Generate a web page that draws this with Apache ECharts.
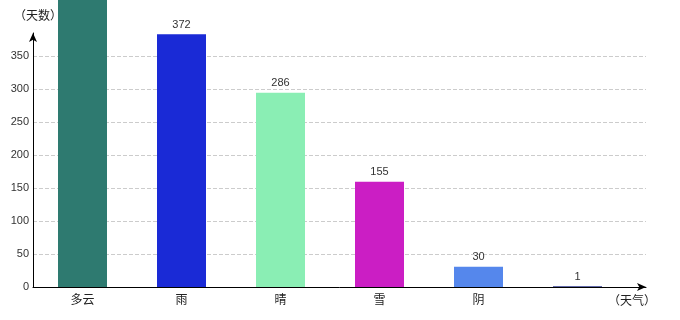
<!DOCTYPE html>
<html>
<head>
<meta charset="utf-8">
<script src="https://cdn.jsdelivr.net/npm/echarts@6/dist/echarts.min.js"></script>
<style>html,body{margin:0;padding:0;background:#fff}#c{width:680px;height:320px}</style>
</head>
<body>
<div id="c"></div>
<script>
var categories = ['多云', '雨', '晴', '雪', '阴', ''];
var values = [480, 372, 286, 155, 30, 1];
var barColors = ['#2E7A70', '#1A2AD6', '#8AEEB4', '#CB1EC4', '#5587EC', '#2F3A8E'];
var yTicks = { min: 0, max: 385, interval: 50 };
var xName = '（天气）';
var yName = '（天数）';

var chart = echarts.init(document.getElementById('c'));
var font = 'Liberation Sans, Arial, Noto Sans CJK SC, sans-serif';
var cjk = 'Noto Sans CJK SC, sans-serif';
chart.setOption({
  animation: false,
  textStyle: { fontFamily: font },
  grid: [
    { left: 33, right: 34, top: 33, bottom: 33 },
    { left: 33, right: 53, top: 33, bottom: 33 }
  ],
  xAxis: [
    {
      gridIndex: 0, type: 'value', min: 0, max: 1,
      name: xName, nameLocation: 'end', nameGap: -14,
      nameTextStyle: { color: '#222', fontSize: 12, align: 'center', verticalAlign: 'top', padding: [7, 0, 0, 0], fontFamily: cjk },
      axisLine: { show: true, lineStyle: { color: '#000', width: 1 }, symbol: ['none', 'arrow'], symbolSize: [6, 9] },
      axisTick: { show: false }, axisLabel: { show: false }, splitLine: { show: false }
    },
    {
      gridIndex: 1, type: 'category', data: categories,
      axisLine: { show: false }, axisTick: { show: false },
      axisLabel: { color: '#222', fontSize: 12, margin: 6, fontFamily: cjk },
      splitLine: { show: false }
    }
  ],
  yAxis: [
    {
      gridIndex: 0, type: 'value', min: yTicks.min, max: yTicks.max, interval: yTicks.interval,
      name: yName, nameLocation: 'end', nameGap: 12,
      nameTextStyle: { color: '#222', fontSize: 12, align: 'center', padding: [0, 0, 0, 10], fontFamily: cjk },
      axisLine: { show: true, lineStyle: { color: '#000', width: 1 }, symbol: ['none', 'arrow'], symbolSize: [6, 9] },
      axisTick: { show: false },
      axisLabel: { color: '#333', fontSize: 11, margin: 4, showMaxLabel: false, fontFamily: font },
      splitLine: { show: true, showMaxLine: false, lineStyle: { color: '#ccc', type: 'dashed' } }
    },
    {
      gridIndex: 1, type: 'value', min: 0, max: 374, show: false,
      splitLine: { show: false }
    }
  ],
  series: [{
    type: 'bar',
    xAxisIndex: 1, yAxisIndex: 1,
    barWidth: 49,
    clip: false,
    data: values.map(function (v, i) { return { value: v, itemStyle: { color: barColors[i] } }; }),
    label: { show: true, position: 'top', color: '#333', fontSize: 11, distance: 4, fontFamily: font }
  }]
});
</script>
</body>
</html>
